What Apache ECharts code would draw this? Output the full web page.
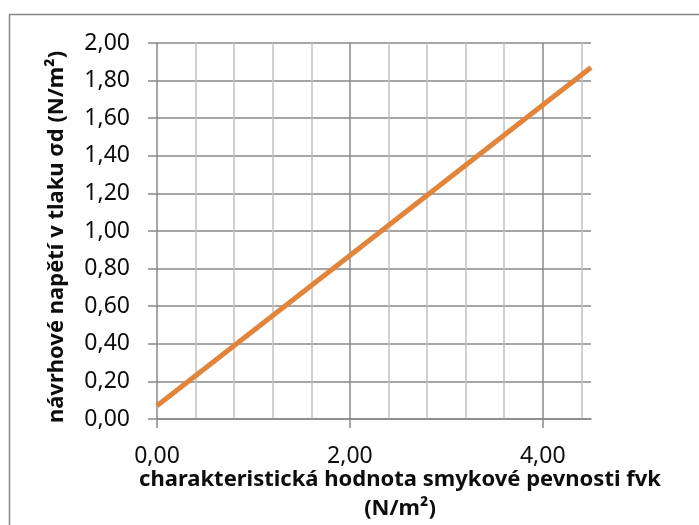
<!DOCTYPE html>
<html>
<head>
<meta charset="utf-8">
<script src="https://cdn.jsdelivr.net/npm/echarts@6/dist/echarts.min.js"></script>
<style>
  html, body { margin: 0; padding: 0; background: #fff; }
  #chart { width: 699px; height: 525px; }
</style>
</head>
<body>
<div id="chart"></div>
<script>
// Characteristic shear strength fvk (x) vs. design compressive stress σd (y)
const shearStrength = [0, 2, 4, 4.5];
const designStress = [0.07, 0.87, 1.67, 1.87];

const xMin = 0, xMax = 4.5;
const yMin = 0, yMax = 2;
const yTickStep = 0.2;
const xMinorStep = 0.4;
const xMajorStep = 2;

const xTitle = 'charakteristická hodnota smykové pevnosti fvk';
const xTitleUnit = '(N/m²)';
const yTitle = 'návrhové napětí v tlaku σd (N/m²)';

const FONT = '"Noto Sans", "DejaVu Sans", sans-serif';
const fmt = v => v.toFixed(2).replace('.', ',');

const majorGrid = '#888888';
const minorGrid = '#c0c0c0';
// vertical grid lines every 0.4: darker on each 2,00 step, none drawn at the right edge
const xGridColors = [];
const nLines = Math.floor(xMax / xMinorStep + 1e-9) + 2;
for (let i = 0; i < nLines; i++) {
  const v = i * xMinorStep;
  if (i === nLines - 1) xGridColors.push('rgba(0,0,0,0)');
  else xGridColors.push(Math.abs(v / xMajorStep - Math.round(v / xMajorStep)) < 1e-6 ? majorGrid : minorGrid);
}

const chart = echarts.init(document.getElementById('chart'), null, { renderer: 'canvas' });
chart.setOption({
  animation: false,
  backgroundColor: '#fff',
  grid: { left: 157, right: 108, top: 43, bottom: 106, containLabel: false },
  xAxis: [
    {
      type: 'value', min: xMin, max: xMax, interval: xMinorStep,
      axisLine: { show: false }, axisTick: { show: false }, axisLabel: { show: false },
      splitLine: { show: true, lineStyle: { color: xGridColors, width: 1.5 } }
    },
    {
      type: 'value', min: xMin, max: xMax, interval: xMajorStep, position: 'bottom',
      axisLine: { show: true, lineStyle: { color: majorGrid, width: 1.5 } },
      axisTick: { show: true, length: 9, inside: false, lineStyle: { color: majorGrid, width: 1.5 } },
      axisLabel: { show: true, formatter: fmt, showMaxLabel: false, margin: 26,
        fontFamily: FONT, fontSize: 23, color: '#0d0d0d' },
      splitLine: { show: false }
    }
  ],
  yAxis: {
    type: 'value', min: yMin, max: yMax, interval: yTickStep,
    axisLine: { show: false },
    axisTick: { show: true, length: 9, inside: false, lineStyle: { color: majorGrid, width: 1.5 } },
    axisLabel: { formatter: fmt, margin: 27, fontFamily: FONT, fontSize: 23, color: '#0d0d0d' },
    splitLine: { show: true, lineStyle: { color: majorGrid, width: 1.5 } }
  },
  series: [{
    type: 'line',
    xAxisIndex: 1,
    data: shearStrength.map((x, i) => [x, designStress[i]]),
    showSymbol: false,
    lineStyle: { color: '#e2843a', width: 5 },
    clip: true
  }],
  graphic: [
    { type: 'rect', silent: true, z: 100,
      shape: { x: 9.5, y: 14.5, width: 720, height: 540 },
      style: { fill: 'none', stroke: '#868686', lineWidth: 1.5 } },
    { type: 'text', x: 400, y: 480,
      style: { text: xTitle, font: 'bold 22px ' + FONT, fill: '#0d0d0d', textAlign: 'center', textVerticalAlign: 'middle' } },
    { type: 'text', x: 400, y: 509,
      style: { text: xTitleUnit, font: 'bold 22px ' + FONT, fill: '#0d0d0d', textAlign: 'center', textVerticalAlign: 'middle' } },
    { type: 'text', x: 57, y: 237, rotation: Math.PI / 2,
      style: { text: yTitle, font: 'bold 22px ' + FONT, fill: '#0d0d0d', textAlign: 'center', textVerticalAlign: 'middle' } }
  ]
});
</script>
</body>
</html>
